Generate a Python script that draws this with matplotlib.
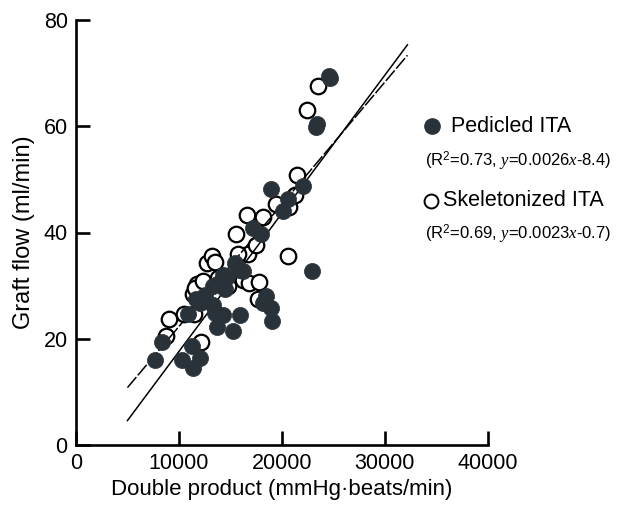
import matplotlib
matplotlib.use('Agg')
import matplotlib.pyplot as plt
import numpy as np

plt.rcParams['font.family'] = ['Liberation Sans', 'DejaVu Sans']
plt.rcParams['mathtext.fontset'] = 'custom'
plt.rcParams['mathtext.it'] = 'Liberation Serif:italic'
plt.rcParams['mathtext.rm'] = 'Liberation Sans'

# pedicled ITA (filled)
ped_x = [7700, 8350, 10300, 11250, 11400, 12050, 10900, 11700, 12000, 12550,
         13350, 13550, 14300, 13700, 15250, 15950, 13350, 13700, 14300, 14500,
         14700, 15450, 16250, 15900, 17200, 18000, 18900, 18500, 18200, 18900,
         19000, 20150, 20600, 22100, 22900, 23350, 23400, 24600, 24700]
ped_y = [16.0, 19.3, 16.0, 18.6, 14.5, 16.4, 24.6, 27.5, 26.8, 28.2,
         26.4, 24.8, 24.5, 22.2, 21.5, 24.5, 29.9, 30.4, 32.0, 29.3,
         31.7, 34.3, 32.7, 33.0, 40.8, 39.8, 48.1, 28.0, 26.7, 25.8,
         23.4, 44.1, 46.4, 48.7, 32.8, 59.9, 60.4, 69.5, 69.0]

# skeletonized ITA (open)
skel_x = [9000, 8700, 10450, 11500, 12150, 11750, 11400, 11600, 12300, 12700,
          13200, 13500, 14800, 15500, 16250, 16750, 16650, 16800, 17800, 17700,
          17500, 18150, 19400, 20550, 20700, 21300, 21500, 22400, 23550, 13800,
          15700]
skel_y = [23.7, 20.6, 24.6, 24.6, 19.3, 30.4, 28.4, 29.6, 30.9, 34.3,
          35.5, 34.5, 29.9, 39.7, 31.1, 36.0, 43.3, 30.5, 30.6, 27.4,
          37.6, 42.9, 45.4, 35.5, 44.8, 47.1, 50.8, 63.1, 67.5, 31.5,
          36.0]

# regression lines
ped_fit = (0.0026, -8.4)
skel_fit = (0.0023, -0.7)
fit_x = np.array([5000, 32200])

fig = plt.figure(figsize=(6.17, 5.05), dpi=100)
ax = fig.add_axes([76 / 617, 60 / 505, (487.7 - 76) / 617, (445 - 20) / 505])

ax.plot(fit_x, ped_fit[0] * fit_x + ped_fit[1], color='black', lw=1.1, zorder=3)
ax.plot(fit_x, skel_fit[0] * fit_x + skel_fit[1], color='black', lw=1.1,
        dashes=(9, 1.5), zorder=3)

ax.scatter(skel_x, skel_y, s=125, facecolors='white', edgecolors='black',
           linewidths=1.6, zorder=2, clip_on=False)
ax.scatter(ped_x, ped_y, s=135, color='#283238', edgecolors='#283238',
           linewidths=0.5, zorder=4, clip_on=False)

ax.set_xlim(0, 40000)
ax.set_ylim(0, 80)
ax.set_xticks([0, 10000, 20000, 30000, 40000])
ax.set_yticks([0, 20, 40, 60, 80])
for s in ['top', 'right']:
    ax.spines[s].set_visible(False)
for s in ['left', 'bottom']:
    ax.spines[s].set_linewidth(1.9)
ax.tick_params(direction='in', length=10, width=1.9, labelsize=15.5, pad=6)
ax.set_xlabel('Double product (mmHg\u00b7beats/min)', fontsize=16, labelpad=3)
ax.set_ylabel('Graft flow (ml/min)', fontsize=17, labelpad=6)

# legend drawn by hand
ax.plot([431.7 / 617], [1 - 126 / 505], 'o', ms=11, color='#283238',
        transform=fig.transFigure, clip_on=False)
fig.text(451 / 617, 1 - 126 / 505, 'Pedicled ITA', fontsize=15.5, va='center')
fig.text(425 / 617, 1 - 161 / 505, r'(R$^2$=0.73, $\mathit{y}$=0.0026$\mathit{x}$-8.4)',
         fontsize=12, va='center')
ax.plot([431 / 617], [1 - 201 / 505], 'o', ms=10, mfc='white', mec='black', mew=1.4,
        transform=fig.transFigure, clip_on=False)
fig.text(443 / 617, 1 - 201 / 505, 'Skeletonized ITA', fontsize=15.5, va='center')
fig.text(425 / 617, 1 - 234 / 505, r'(R$^2$=0.69, $\mathit{y}$=0.0023$\mathit{x}$-0.7)',
         fontsize=12, va='center')

fig.savefig('out.png', dpi=100)
